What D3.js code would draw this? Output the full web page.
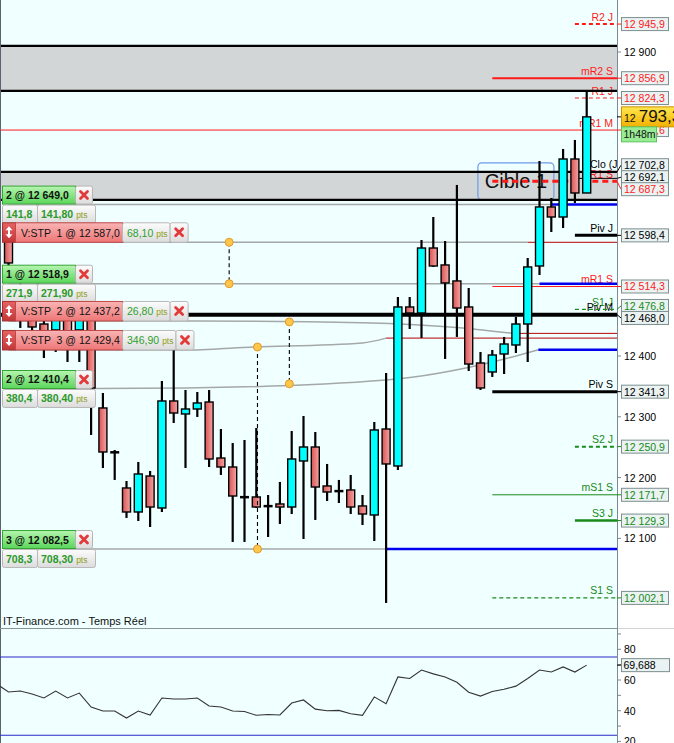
<!DOCTYPE html>
<html><head><meta charset="utf-8"><title>chart</title>
<script src="https://cdn.jsdelivr.net/npm/d3@7/dist/d3.min.js"></script>
<style>html,body{margin:0;padding:0;background:#fff;overflow:hidden}svg{display:block;font-family:"Liberation Sans",Arial,sans-serif}</style>
</head><body>
<svg id="chart" width="674" height="743"></svg>
<script>
// ---------- DATA ----------
const candleOpen  = [12615.5,12508.6,12462.5,12452.6,12442.8,12465.8,12442.8,12465.8,12314.5,12242.1,12182.9,12143.4,12202.6,12150.0,12326.0,12304.6,12312.8,12324.3,12232.2,12217.4,12168.1,12168.1,12153.3,12156.6,12151.6,12227.3,12250.3,12186.2,12178.0,12179.6,12153.3,12138.5,12279.9,12219.1,12480.6,12470.7,12577.6,12549.7,12523.4,12480.6,12388.5,12373.7,12403.3,12418.1,12452.6,12548.0,12645.1,12628.6,12724.0,12668.1];
const candleHigh  = [12631.9,12541.4,12483.9,12475.7,12478.9,12483.9,12492.1,12492.1,12339.1,12245.4,12194.4,12225.7,12210.9,12358.9,12409.9,12344.1,12340.8,12344.1,12279.9,12256.9,12261.8,12281.6,12171.4,12192.8,12276.6,12301.3,12275.0,12222.4,12196.1,12204.3,12171.4,12291.4,12372.0,12497.0,12497.0,12590.8,12628.6,12589.1,12681.3,12511.8,12406.6,12409.9,12431.3,12464.1,12561.2,12720.7,12659.9,12740.5,12755.3,12837.5];
const candleLow   = [12541.4,12446.1,12426.3,12396.7,12406.6,12390.1,12390.1,12270.1,12215.8,12196.1,12133.6,12128.6,12118.7,12143.4,12289.8,12215.8,12299.7,12217.4,12204.3,12094.1,12094.1,12150.0,12102.3,12123.7,12140.1,12099.0,12130.3,12161.5,12158.2,12140.1,12122.0,12095.7,11993.8,12212.5,12444.4,12429.6,12546.4,12395.1,12431.3,12375.3,12344.1,12365.5,12370.4,12404.9,12390.1,12533.2,12603.9,12610.5,12651.6,12668.1];
const candleClose = [12553.0,12467.4,12447.7,12441.1,12462.5,12434.5,12462.5,12347.4,12242.1,12241.0,12143.4,12205.9,12151.6,12326.0,12306.2,12312.8,12322.7,12230.6,12217.4,12169.7,12167.5,12151.6,12152.8,12151.6,12230.6,12250.3,12184.5,12176.3,12177.5,12151.6,12140.1,12278.3,12222.4,12480.6,12470.7,12577.6,12548.0,12520.1,12478.9,12386.8,12347.4,12401.6,12419.7,12452.6,12546.4,12645.1,12628.6,12724.0,12668.1,12793.3];

// oscillator: first value belongs to the candle before the first one shown
const oscValues = [57.4,52.2,52.8,50.9,48.3,52.8,48.3,51.5,42.4,39.8,39.8,35.2,39.8,37.2,48.3,47.6,47.6,48.3,43.1,42.4,39.8,39.5,37.0,37.5,37.2,45.0,47.0,41.0,40.0,40.2,38.0,37.0,49.0,44.5,62.0,61.0,66.5,64.0,62.0,58.5,52.0,49.5,52.5,54.0,56.0,61.0,66.5,65.2,68.5,65.2,69.688];
const oscBands = [75, 24];
const oscTicks = [20,30,40,50,60,70,80,90];
const oscTickLabels = [20,40,60,80];

// tick labels that are not covered by the level boxes
const mainTicks = [12100,12200,12300,12400,12900];

const levelNames  = ["R2 J","mR2 S","R1 J","mR1 M","Clo (J_Pr","","R1 S","Piv J","mR1 S","S1 J","Piv M","Piv S","S2 J","mS1 S","S3 J","S1 S"];
const levelValues = [12945.9,12856.9,12824.3,12771.6,12702.8,12692.1,12687.3,12598.4,12514.3,12476.8,12468.0,12341.3,12250.9,12171.7,12129.3,12002.1];
const periodStart = {J: 48, S: 41};

const zoneLow  = [12835.9, 12656.6];
const zoneHigh = [12909.9, 12702.8];

const cibleLabel = "Cible 1";
const cibleIndex = 43;
const cibleValue = 12687.3;

const entryQty   = [2, 1, 2, 3];
const entryPrice = [12649.0, 12518.9, 12410.4, 12082.5];
const entryGain  = [141.8, 271.9, 380.4, 708.3];
const trailA  = [[0,12649.0],[46,12649.0]];
const trailB  = [[0,12518.9],[45,12518.9]];
const trailC  = [[0,12345.7],[15,12347.4],[32,12360.5],[41.7,12393.4],[44.9,12410.4]];
const trailD  = [[0,12082.5],[32,12082.5]];
const stopNum   = [1, 2, 3];
const stopPrice = [12587.0, 12437.2, 12429.4];
const stopPts   = [68.10, 26.80, 346.90];
const trailS1 = [[0,12587.0],[44,12587.0]];
const trailS2 = [[0,12457.6],[16,12457.6],[30,12454.8],[38.5,12446.1],[42.7,12437.2]];
const trailS3 = [[0,12409.9],[16,12409.9],[19,12413.2],[30,12421.4],[32,12429.4]];
const connIndex = [18.7, 23.8, 21.1];

const lastPrice = 12793.3;
const timeLeft = "1h48m";
const sourceText = "IT-Finance.com - Temps Réel";

// ---------- SETUP ----------
const entryTrail = [trailA, trailB, trailC, trailD];
const stopTrail  = [trailS1, trailS2, trailS3];
const connFrom = [trailS1, trailS2, trailS3];
const connTo   = [trailB, trailC, trailD];

const W=674,H=743,PR=617,MB=628,IT=629;
const svg=d3.select("#chart");
const defs=svg.append("defs");
function grad(id,c1,c2,hor){const g=defs.append("linearGradient").attr("id",id).attr("x1",0).attr("y1",0).attr("x2",hor?1:0).attr("y2",hor?0:1);g.append("stop").attr("offset","0%").attr("stop-color",c1);g.append("stop").attr("offset","100%").attr("stop-color",c2);}
grad("gGreen","#b6f5b0","#5ad65a");
grad("gGray","#fcfcfc","#dcdcdc");
grad("gSalmon","#f9b4b4","#ee7676");
grad("gIcon","#e66262","#c43636");
grad("gGold","#ffe84e","#f2b000");
grad("gCandle","#d85454","#f5a4a4",true);
defs.append("clipPath").attr("id","clipMain").append("rect").attr("x",0).attr("y",0).attr("width",PR).attr("height",MB);
defs.append("clipPath").attr("id","clipInd").append("rect").attr("x",0).attr("y",IT).attr("width",PR).attr("height",H-IT);

const loc=d3.formatLocale({decimal:",",thousands:" ",grouping:[3],currency:["",""]});
const f0=loc.format(",.0f"), f1=loc.format(",.1f"), f2=loc.format(",.2f"), f3=loc.format(".3f");

const x=d3.scaleLinear().domain([0,candleOpen.length-1]).range([8.5,586.7]);
const y=d3.scaleLinear().domain([11952.6,12985.5]).range([MB,0]);
const yi=d3.scaleLinear().domain([20,80]).range([741.4,649.3]);

svg.append("rect").attr("width",W).attr("height",H).attr("fill","#fff");
svg.append("rect").attr("x",0).attr("y",0).attr("width",PR).attr("height",MB).attr("fill","#f0ffff");
svg.append("rect").attr("x",0).attr("y",IT).attr("width",PR).attr("height",H-IT).attr("fill","#f0ffff");

const main=svg.append("g").attr("clip-path","url(#clipMain)");

// zones
zoneLow.forEach((lo,i)=>{const hi=zoneHigh[i];
  main.append("rect").attr("x",0).attr("width",PR).attr("y",y(hi)).attr("height",y(lo)-y(hi)).attr("fill","#d3d6d6");});

// cible box
main.append("rect").attr("x",x(cibleIndex)-38).attr("y",y(cibleValue)-18.5).attr("width",76).attr("height",37).attr("rx",4)
  .attr("fill","none").attr("stroke","#6d9be8").attr("stroke-width",1.2);
main.append("text").attr("x",x(cibleIndex)).attr("y",y(cibleValue)+7).attr("text-anchor","middle").attr("font-size",20).attr("fill","#111").text(cibleLabel);

// levels
const RED="#ff1a1a", GREEN="#168a16";
function lvlColor(n){return /R\d/.test(n)?RED:(/S\d/.test(n)?GREEN:"#000");}
const levelStyle = {
 "R2 J":{c:RED,w:2,d:"4,3"}, "mR2 S":{c:RED,w:2}, "R1 J":{c:RED,w:1.2,d:"4,3"}, "mR1 M":{c:RED,w:1},
 "Clo (J_Pr":{c:"#000",w:2}, "":{c:"#000",w:1,p:"J"}, "R1 S":{c:RED,w:3,d:"6,4"}, "Piv J":{c:"#000",w:3},
 "mR1 S":{c:RED,w:1}, "S1 J":{c:"#1a8a1a",w:1.2,d:"4,3"}, "Piv M":{c:"#000",w:4}, "Piv S":{c:"#000",w:3},
 "S2 J":{c:"#1a8a1a",w:2,d:"4,3"}, "mS1 S":{c:"#1a8a1a",w:1}, "S3 J":{c:"#1a8a1a",w:2.5}, "S1 S":{c:"#1a8a1a",w:1.2,d:"4,3"}
};
function lvlStart(n){const st=levelStyle[n]; if(st.p) return x(periodStart[st.p]);
  if(n.startsWith("Clo")) return 0; const m=n.match(/ (J|S|M)$/); if(!m||m[1]==="M") return 0; return x(periodStart[m[1]]);}
levelNames.forEach((n,i)=>{ if(!n) return; const v=levelValues[i]; const clo=n.startsWith("Clo");
  main.append("text").attr("x",clo?590:613).attr("text-anchor",clo?"start":"end").attr("y",y(v)-3.5)
   .attr("font-size",10.5).attr("fill",lvlColor(n)).text(n);});
levelNames.forEach((n,i)=>{const v=levelValues[i]; const st=levelStyle[n];
  main.append("line").attr("x1",lvlStart(n)).attr("x2",PR).attr("y1",y(v)).attr("y2",y(v))
   .attr("stroke",st.c).attr("stroke-width",st.w).attr("stroke-dasharray",st.d||null);});
zoneLow.forEach((lo,i)=>{[lo,zoneHigh[i]].forEach(v=>main.append("line").attr("x1",0).attr("x2",PR).attr("y1",y(v)).attr("y2",y(v)).attr("stroke","#000").attr("stroke-width",2.2));});

// trails & active order lines
const trailLine=d3.line().x(d=>x(d[0])).y(d=>y(d[1])).curve(d3.curveMonotoneX);
function drawTrail(tr,price,col,w){
  main.append("path").attr("d",trailLine(tr)).attr("fill","none").attr("stroke","#a4a8a8").attr("stroke-width",1.5);
  const last=tr[tr.length-1][0];
  main.append("line").attr("x1",x(last)).attr("x2",PR).attr("y1",y(price)).attr("y2",y(price)).attr("stroke",col).attr("stroke-width",w);
}
entryTrail.forEach((tr,i)=>drawTrail(tr,entryPrice[i],"#0000ee",2.5));
stopTrail.forEach((tr,i)=>drawTrail(tr,stopPrice[i],"#b80000",1));

// candles
candleOpen.forEach((o,i)=>{const c=candleClose[i],h=candleHigh[i],l=candleLow[i],cx=x(i);
  main.append("line").attr("x1",cx).attr("x2",cx).attr("y1",y(h)).attr("y2",y(l)).attr("stroke","#000").attr("stroke-width",2.2);
  const top=y(Math.max(o,c)), bot=y(Math.min(o,c));
  if(bot-top<1.5){ main.append("line").attr("x1",cx-4.5).attr("x2",cx+4.5).attr("y1",(top+bot)/2).attr("y2",(top+bot)/2).attr("stroke","#000").attr("stroke-width",2.5); }
  else main.append("rect").attr("x",cx-4).attr("width",8).attr("y",top).attr("height",bot-top)
    .attr("fill",c>=o?"#00ffff":"url(#gCandle)").attr("stroke","#000").attr("stroke-width",1.4);
});

// connectors
function interp(tr,k){for(let j=1;j<tr.length;j++){if(k<=tr[j][0]){const a=tr[j-1],b=tr[j];return a[1]+(b[1]-a[1])*(k-a[0])/(b[0]-a[0]);}}return tr[tr.length-1][1];}
connIndex.forEach((k,i)=>{const y1=y(interp(connFrom[i],k)), y2=y(interp(connTo[i],k)), cx=x(k);
  main.append("line").attr("x1",cx).attr("x2",cx).attr("y1",y1).attr("y2",y2).attr("stroke","#000").attr("stroke-width",1.1).attr("stroke-dasharray","4,3");
  [y1,y2].forEach(yy=>main.append("circle").attr("cx",cx).attr("cy",yy).attr("r",4).attr("fill","#ffc64a").attr("stroke","#e09a2a").attr("stroke-width",1));
});

// ---------- AXES ----------
svg.append("line").attr("x1",0.5).attr("x2",0.5).attr("y1",0).attr("y2",H).attr("stroke","#5a6470").attr("stroke-width",1);
svg.append("line").attr("x1",0).attr("x2",PR).attr("y1",MB+0.5).attr("y2",MB+0.5).attr("stroke","#8a9494");
svg.append("line").attr("x1",PR).attr("x2",W).attr("y1",MB+0.5).attr("y2",MB+0.5).attr("stroke","#d0d4d4");
svg.append("line").attr("x1",PR+0.5).attr("x2",PR+0.5).attr("y1",0).attr("y2",H).attr("stroke","#7a8a96");

const ax=svg.append("g");
mainTicks.forEach(t=>{const yy=y(t);
  ax.append("line").attr("x1",PR).attr("x2",PR+4).attr("y1",yy).attr("y2",yy).attr("stroke","#7a8a96");
  ax.append("text").attr("x",PR+7).attr("y",yy+4).attr("font-size",10.5).attr("fill","#000").text(f0(t));});

// level boxes with collision relaxation
const boxes=levelValues.map((v,i)=>({v,n:levelNames[i],y:y(v)}));
const sorted=boxes.slice().sort((a,b)=>a.y-b.y);
for(let it=0;it<60;it++){for(let i=1;i<sorted.length;i++){const a=sorted[i-1],b=sorted[i];const d=b.y-a.y;if(d<12){const s=(12-d)/2;a.y-=s;b.y+=s;}}}
boxes.forEach(b=>{const col=b.n?lvlColor(b.n):"#000";
  ax.append("line").attr("x1",PR).attr("x2",621).attr("y1",y(b.v)).attr("y2",b.y).attr("stroke",col);
  ax.append("rect").attr("x",621.5).attr("y",b.y-6.5).attr("width",47).attr("height",13).attr("fill","#eaf2f2").attr("stroke","#7d8f8f");
  ax.append("text").attr("x",624).attr("y",b.y+4).attr("font-size",10.5).attr("fill",col).text(f1(b.v));});

// ---------- PANELS ----------
function xIcon(g,cx,cy){g.append("path").attr("d",`M${cx-3.5},${cy-3.5}L${cx+3.5},${cy+3.5}M${cx+3.5},${cy-3.5}L${cx-3.5},${cy+3.5}`)
  .attr("stroke","#e23a3a").attr("stroke-width",2.8).attr("stroke-linecap","round");}
function entryPanel(i){
  const b=y(entryTrail[i][0][1]); const g=svg.append("g");
  g.append("rect").attr("x",2.5).attr("y",b-18.5).attr("width",73).attr("height",18).attr("fill","url(#gGreen)").attr("stroke","#35a535");
  g.append("text").attr("x",6).attr("y",b-5.5).attr("font-size",10.5).attr("font-weight","bold").attr("fill","#111").text(`${entryQty[i]} @ ${f1(entryPrice[i])}`);
  g.append("rect").attr("x",75.5).attr("y",b-18.5).attr("width",17).attr("height",18).attr("rx",2).attr("fill","url(#gGray)").attr("stroke","#b5b5b5");
  xIcon(g,84,b-9.5);
  g.append("rect").attr("x",2.5).attr("y",b+0.5).attr("width",35).attr("height",18).attr("rx",2).attr("fill","url(#gGray)").attr("stroke","#b8b8b8");
  g.append("rect").attr("x",37.5).attr("y",b+0.5).attr("width",58).attr("height",18).attr("rx",2).attr("fill","url(#gGray)").attr("stroke","#b8b8b8");
  g.append("text").attr("x",6).attr("y",b+13.5).attr("font-size",10.5).attr("font-weight","bold").attr("fill","#2a9a2a").text(f1(entryGain[i]));
  const t2=g.append("text").attr("x",41).attr("y",b+13.5).attr("font-size",10.5).attr("font-weight","bold").attr("fill","#2a9a2a");
  t2.append("tspan").text(f2(entryGain[i]));
  t2.append("tspan").attr("font-size",8.5).attr("font-weight","normal").attr("fill","#8fa020").attr("dx",3).text("pts");
}
function stopPanel(i){
  const b=y(stopTrail[i][0][1]); const top=b-20; const g=svg.append("g");
  g.append("rect").attr("x",2.5).attr("y",top+0.5).attr("width",13).attr("height",19.5).attr("fill","url(#gIcon)").attr("stroke","#a83030");
  const cx=9, a1=top+4, a2=b-4;
  g.append("path").attr("d",`M${cx},${a1+2}L${cx},${a2-2}`).attr("stroke","#fff").attr("stroke-width",2);
  g.append("path").attr("d",`M${cx-3.5},${a1+4}L${cx},${a1}L${cx+3.5},${a1+4}ZM${cx-3.5},${a2-4}L${cx},${a2}L${cx+3.5},${a2-4}Z`).attr("fill","#fff");
  g.append("rect").attr("x",15.5).attr("y",top+0.5).attr("width",107).attr("height",19.5).attr("fill","url(#gSalmon)").attr("stroke","#c04848");
  g.append("text").attr("x",21).attr("y",top+14.5).attr("font-size",10.5).attr("fill","#111").style("white-space","pre").text(`V:STP  ${stopNum[i]} @ ${f1(stopPrice[i])}`);
  const t=g.append("text").attr("x",127).attr("y",top+14.5).attr("font-size",10.5).attr("fill","#2f9f2f");
  t.append("tspan").text(f2(stopPts[i]));
  t.append("tspan").attr("font-size",8.5).attr("fill","#8fa020").attr("dx",3).text("pts");
  const w=t.node().getComputedTextLength()+10;
  g.insert("rect","text").attr("x",122.5).attr("y",top+0.5).attr("width",w).attr("height",19.5).attr("rx",2).attr("fill","url(#gGray)").attr("stroke","#b8b8b8");
  g.append("rect").attr("x",122.5+w).attr("y",top+0.5).attr("width",18).attr("height",19.5).attr("rx",2).attr("fill","url(#gGray)").attr("stroke","#b8b8b8");
  xIcon(g,122.5+w+9,top+10);
}
entryPanel(0); stopPanel(0); entryPanel(1); stopPanel(1); stopPanel(2); entryPanel(2); entryPanel(3);

svg.append("text").attr("x",3).attr("y",625).attr("font-size",11).attr("fill","#111").text(sourceText);

// ---------- INDICATOR ----------
const ind=svg.append("g").attr("clip-path","url(#clipInd)");
oscBands.forEach(v=>ind.append("line").attr("x1",0).attr("x2",PR).attr("y1",yi(v)).attr("y2",yi(v)).attr("stroke","#2828c8").attr("stroke-width",1.2));
ind.append("path").attr("d",d3.line().x((d,j)=>x(j-1)).y(d=>yi(d))(oscValues)).attr("fill","none").attr("stroke","#333").attr("stroke-width",1.1);
oscTicks.forEach(t=>{const yy=yi(t);
  svg.append("line").attr("x1",PR).attr("x2",PR+4).attr("y1",yy).attr("y2",yy).attr("stroke","#7a8a96");});
oscTickLabels.forEach(t=>{const yy=yi(t);
  svg.append("text").attr("x",PR+7).attr("y",yy+4).attr("font-size",10.5).attr("fill","#000").text(t);});
const ov=oscValues[oscValues.length-1];
svg.append("line").attr("x1",PR).attr("x2",621).attr("y1",yi(ov)).attr("y2",yi(ov)).attr("stroke","#000");
svg.append("rect").attr("x",621.5).attr("y",yi(ov)-6.5).attr("width",48).attr("height",13).attr("fill","#eaf2f2").attr("stroke","#7d8f8f");
svg.append("text").attr("x",623.5).attr("y",yi(ov)+4).attr("font-size",10.5).attr("fill","#000").text(f3(ov));

// ---------- LAST PRICE ----------
const ly=y(lastPrice);
svg.append("line").attr("x1",PR).attr("x2",622).attr("y1",ly).attr("y2",ly).attr("stroke","#000");
svg.append("rect").attr("x",621.5).attr("y",ly-10).attr("width",60).attr("height",20).attr("fill","url(#gGold)").attr("stroke","#c89000");
const lt=svg.append("text").attr("x",624).attr("y",ly+5.5).attr("fill","#111");
const lp=f1(lastPrice).split(" ");
lt.append("tspan").attr("font-size",10.5).text(lp[0]);
lt.append("tspan").attr("font-size",17).attr("dx",3).text(lp[1]);
svg.append("rect").attr("x",621.5).attr("y",ly+10).attr("width",35).attr("height",15).attr("fill","#98ec94").attr("stroke","#5cc45c");
svg.append("text").attr("x",623.5).attr("y",ly+21.5).attr("font-size",10.5).attr("fill","#111").text(timeLeft);
</script></body></html>
